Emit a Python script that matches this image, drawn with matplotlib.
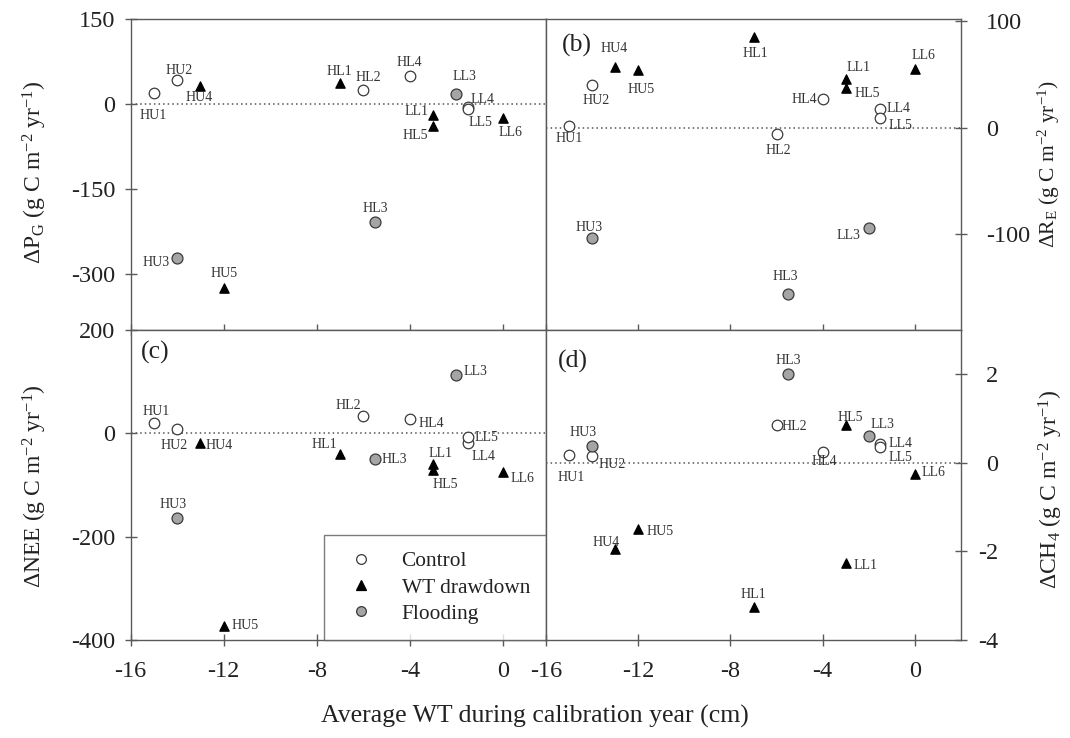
import matplotlib
matplotlib.use('Agg')
import matplotlib.pyplot as plt
from matplotlib.lines import Line2D

plt.rcParams['font.family'] = ['Liberation Serif', 'DejaVu Serif']
plt.rcParams['mathtext.fontset'] = 'custom'
plt.rcParams['mathtext.rm'] = 'Liberation Serif'
plt.rcParams['mathtext.it'] = 'Liberation Serif:italic'
plt.rcParams['axes.unicode_minus'] = False

# ---------------- data ----------------
sites = ['HU1', 'HU2', 'HU3', 'HU4', 'HU5', 'HL1', 'HL2', 'HL3', 'HL4', 'HL5',
         'LL1', 'LL3', 'LL4', 'LL5', 'LL6']
treatment = ['Control', 'Control', 'Flooding', 'WT drawdown', 'WT drawdown',
             'WT drawdown', 'Control', 'Flooding', 'Control', 'WT drawdown',
             'WT drawdown', 'Flooding', 'Control', 'Control', 'WT drawdown']
avg_wt = [-15, -14, -14, -13, -12, -7, -6, -5.5, -4, -3, -3, -2, -1.5, -1.5, 0]
d_pg = [19, 43, -272, 32, -325, 38, 25, -208, 50, -38, -20, 17, -6, -8, -24]
d_re = [2, 40, -104, 57, 54, 85, -6, -156, 27, 37, 46, -94, 18, 9, 55]
d_nee = [20, 9, -164, -18, -372, -40, 33, -50, 27, -70, -60, 113, -19, -8, -74]
d_ch4 = [0.17, 0.16, 0.38, -1.95, -1.5, -3.25, 0.85, 2.0, 0.25, 0.85, -2.25,
         0.6, 0.42, 0.35, -0.25]
legend_labels = ['Control', 'WT drawdown', 'Flooding']
x_ticks = [-16, -12, -8, -4, 0]

# ---------------- styles / label offsets (pixels) ----------------
styles = {
    'Control': dict(marker='o', facecolor='white', edgecolor='#3a3a3a', s=58),
    'WT drawdown': dict(marker='^', facecolor='black', edgecolor='black', s=45),
    'Flooding': dict(marker='o', facecolor='#a5a5a5', edgecolor='#3a3a3a', s=62),
}
off_a = {'HU1': (-1, -22), 'HU2': (2, 9), 'HU4': (-1, -12), 'HL1': (-1, 11),
         'HL2': (5, 12), 'HL4': (0, 13), 'LL3': (8, 18), 'LL4': (15, 8),
         'LL5': (12, -14), 'LL1': (-17, 4), 'HL5': (-18, -10), 'LL6': (8, -15),
         'HL3': (0, 13), 'HU3': (-21, -5), 'HU5': (0, 14)}
off_b = {'HU4': (-1, 19), 'HU5': (3, -19), 'HU2': (4, -15), 'HU1': (0, -13),
         'HL1': (2, -16), 'HL2': (2, -16), 'HL4': (-18, 0), 'LL1': (13, 11),
         'HL5': (22, -5), 'LL6': (9, 14), 'LL4': (18, 0), 'LL5': (20, -7),
         'HU3': (-3, 11), 'LL3': (-20, -8), 'HL3': (-3, 17)}
off_c = {'HU1': (2, 12), 'HU2': (-3, -17), 'HU4': (19, -3), 'HL2': (-15, 11),
         'HL4': (22, -4), 'LL3': (19, 3), 'HL1': (-16, 10), 'HL3': (19, 0),
         'LL1': (7, 11), 'HL5': (12, -15), 'LL5': (18, 0), 'LL4': (16, -13),
         'LL6': (20, -7), 'HU3': (-4, 14), 'HU5': (21, 0)}
off_d = {'HL3': (0, 14), 'HL2': (18, -1), 'HL5': (5, 8), 'LL3': (14, 12),
         'LL4': (20, 1), 'LL5': (20, -10), 'HL4': (2, -10), 'HU3': (-9, 14),
         'HU2': (20, -9), 'HU1': (2, -22), 'LL6': (19, 1), 'HU5': (22, -2),
         'HU4': (-9, 7), 'LL1': (20, -3), 'HL1': (0, 12)}

SPINE = '#5a5a5a'
TXT = '#222222'
TICK_FS = 17.5
LABEL_FS = 17

fig = plt.figure(figsize=(10.7, 7.38), dpi=100)
W, H = 1070, 738


def axes_px(x0, y0, x1, y1):
    return fig.add_axes([x0 / W, 1 - y1 / H, (x1 - x0) / W, (y1 - y0) / H])


ax_a = axes_px(130.5, 19.3, 546, 330)
ax_b = axes_px(546, 19.3, 961, 330)
ax_c = axes_px(130.5, 330, 546, 640)
ax_d = axes_px(546, 330, 961, 640)

panels = [
    (ax_a, d_pg, off_a, (-400, 150), [150, 0, -150, -300], (-16, 1.85)),
    (ax_b, d_re, off_b, (-190, 102), [100, 0, -100], (-16, 2.0)),
    (ax_c, d_nee, off_c, (-400, 200), [200, 0, -200, -400], (-16, 1.85)),
    (ax_d, d_ch4, off_d, (-4, 3), [2, 0, -2, -4], (-16, 2.0)),
]

for ax, vals, offs, ylim, yt, xlim in panels:
    ax.set_xlim(*xlim)
    ax.set_ylim(*ylim)
    ax.axhline(0, color='#555555', ls=(0, (1, 2)), lw=1.1, zorder=1)
    for t in legend_labels:
        xs = [x for x, tr in zip(avg_wt, treatment) if tr == t]
        ys = [y for y, tr in zip(vals, treatment) if tr == t]
        st = styles[t]
        ax.scatter(xs, ys, marker=st['marker'], s=st['s'], facecolor=st['facecolor'],
                   edgecolor=st['edgecolor'], linewidths=0.9, zorder=3)
    for name, x, y in zip(sites, avg_wt, vals):
        dx, dy = offs[name]
        ax.annotate(name, (x, y), xytext=(dx, dy), textcoords='offset pixels',
                    ha='center', va='center', fontsize=10, color='#333333', zorder=4)
    ax.set_xticks(x_ticks)
    ax.set_yticks(yt)
    for sp in ax.spines.values():
        sp.set_color(SPINE)
        sp.set_linewidth(1.0)
    ax.tick_params(direction='inout', length=8, width=1, colors=SPINE,
                   labelcolor=TXT, labelsize=TICK_FS)

# top row: no x tick labels
for ax in (ax_a, ax_b):
    ax.tick_params(labelbottom=False)
# right column: y on right
for ax in (ax_b, ax_d):
    ax.yaxis.tick_right()
    ax.tick_params(left=False)
ax_b.tick_params(axis='y', pad=14)
ax_d.tick_params(axis='y', pad=23)
for lab in ax_d.get_yticklabels():
    lab.set_horizontalalignment('right')
for ax in (ax_a, ax_c):
    ax.tick_params(axis='y', pad=7)
for ax in (ax_c, ax_d):
    ax.tick_params(axis='x', pad=11)

ylab_kw = dict(fontsize=LABEL_FS, color=TXT)
ax_a.set_ylabel(r'$\Delta$P$_\mathrm{G}$ (g C m$^{-2}$ yr$^{-1}$)', **ylab_kw)
ax_a.yaxis.set_label_coords(-0.197, 0.508)
ax_c.set_ylabel(r'$\Delta$NEE (g C m$^{-2}$ yr$^{-1}$)', **ylab_kw)
ax_c.yaxis.set_label_coords(-0.197, 0.495)
ax_b.yaxis.set_label_position('right')
ax_b.set_ylabel(r'$\Delta$R$_\mathrm{E}$ (g C m$^{-2}$ yr$^{-1}$)', rotation=90,
                fontsize=15.5, color=TXT)
ax_b.yaxis.set_label_coords(1.18, 0.535)
ax_d.yaxis.set_label_position('right')
ax_d.set_ylabel(r'$\Delta$CH$_4$ (g C m$^{-2}$ yr$^{-1}$)', rotation=90, **ylab_kw)
ax_d.yaxis.set_label_coords(1.182, 0.487)

ax_b.text(0.075, 0.917, '(b)', transform=ax_b.transAxes, fontsize=18.5,
          ha='center', va='center', color=TXT)
ax_c.text(0.059, 0.929, '(c)', transform=ax_c.transAxes, fontsize=18.5,
          ha='center', va='center', color=TXT)
ax_d.text(0.065, 0.897, '(d)', transform=ax_d.transAxes, fontsize=18.5,
          ha='center', va='center', color=TXT)

fig.text(535 / W, 1 - 716 / H, 'Average WT during calibration year (cm)',
         ha='center', va='center', fontsize=18.5, color=TXT)

handles = []
for t in legend_labels:
    st = styles[t]
    handles.append(Line2D([], [], ls='', marker=st['marker'], markersize=7,
                          markerfacecolor=st['facecolor'],
                          markeredgecolor=st['edgecolor'], markeredgewidth=0.9,
                          label=t))
leg = ax_c.legend(handles=handles, loc='lower right', bbox_to_anchor=(1, 0),
                  borderaxespad=0, frameon=True, fancybox=False,
                  edgecolor=SPINE, fontsize=15.4, handlelength=2.0,
                  handletextpad=0.9, borderpad=0.75, labelspacing=0.3)
leg.get_frame().set_linewidth(1.0)
for txt in leg.get_texts():
    txt.set_color(TXT)

fig.savefig('out.png', dpi=100)
